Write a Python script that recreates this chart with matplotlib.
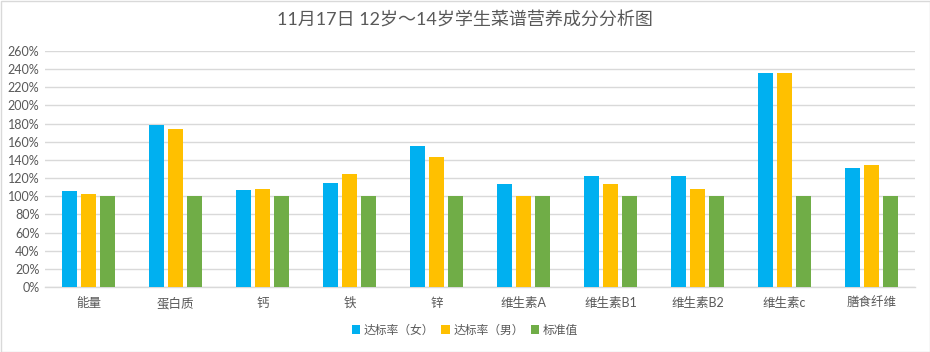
import matplotlib
matplotlib.use("Agg")
import matplotlib.pyplot as plt
import numpy as np
from matplotlib.ticker import FuncFormatter, MultipleLocator
from matplotlib.patches import Rectangle

plt.rcParams['font.family'] = ['Lato', 'Noto Sans CJK SC', 'DejaVu Sans']

categories = ["能量", "蛋白质", "钙", "铁", "锌", "维生素A", "维生素B1", "维生素B2", "维生素c", "膳食纤维"]
female = [106, 178, 107, 115, 155, 113, 122, 122, 236, 131]
male = [103, 174, 108, 125, 143, 100, 114, 108, 236, 134]
standard = [100, 100, 100, 100, 100, 100, 100, 100, 100, 100]
series_names = ["达标率（女）", "达标率（男）", "标准值"]
colors = ["#00B0F0", "#FFC000", "#70AD47"]
title = "11月17日 12岁～14岁学生菜谱营养成分分析图"

fig = plt.figure(figsize=(9.3, 3.52), dpi=100)
ax = fig.add_axes([45/930, 65/352, 870/930, 236/352])

x = np.arange(len(categories))
step = 0.22
width = 0.174
for i, (vals, name, c) in enumerate(zip([female, male, standard], series_names, colors)):
    ax.bar(x + (i - 1) * step, vals, width=width, color=c, label=name, zorder=3)

ax.set_xlim(-0.5, len(categories) - 0.5)
ax.set_ylim(0, 260)
ax.yaxis.set_major_locator(MultipleLocator(20))
ax.yaxis.set_major_formatter(FuncFormatter(lambda v, p: f"{int(round(v))}%"))
ax.set_xticks(x)
ax.set_xticklabels(categories)
ax.grid(axis='y', color='#D9D9D9', linewidth=1, zorder=0)
for s in ['left', 'right', 'top']:
    ax.spines[s].set_visible(False)
ax.spines['bottom'].set_color('#D9D9D9')
ax.spines['bottom'].set_linewidth(1)
ax.tick_params(axis='both', length=0, colors='#595959', labelsize=9)
ax.tick_params(axis='x', pad=7)
ax.tick_params(axis='y', pad=4)

fig.text(0.5, 1 - 20/352, title, ha='center', va='center', fontsize=13, color='#595959')

leg = fig.legend(loc='center', bbox_to_anchor=(0.5, 1 - 330/352), ncol=3, frameon=False,
                 fontsize=8.5, handlelength=0.7, handleheight=0.7, handletextpad=0.3,
                 columnspacing=0.6, labelcolor='#595959')

fig.patches.append(Rectangle((0.5/930, 0.5/352), 1 - 1/930, 1 - 1/352, transform=fig.transFigure,
                             fill=False, edgecolor='#D9D9D9', linewidth=1))

fig.savefig("out.png", dpi=100)
